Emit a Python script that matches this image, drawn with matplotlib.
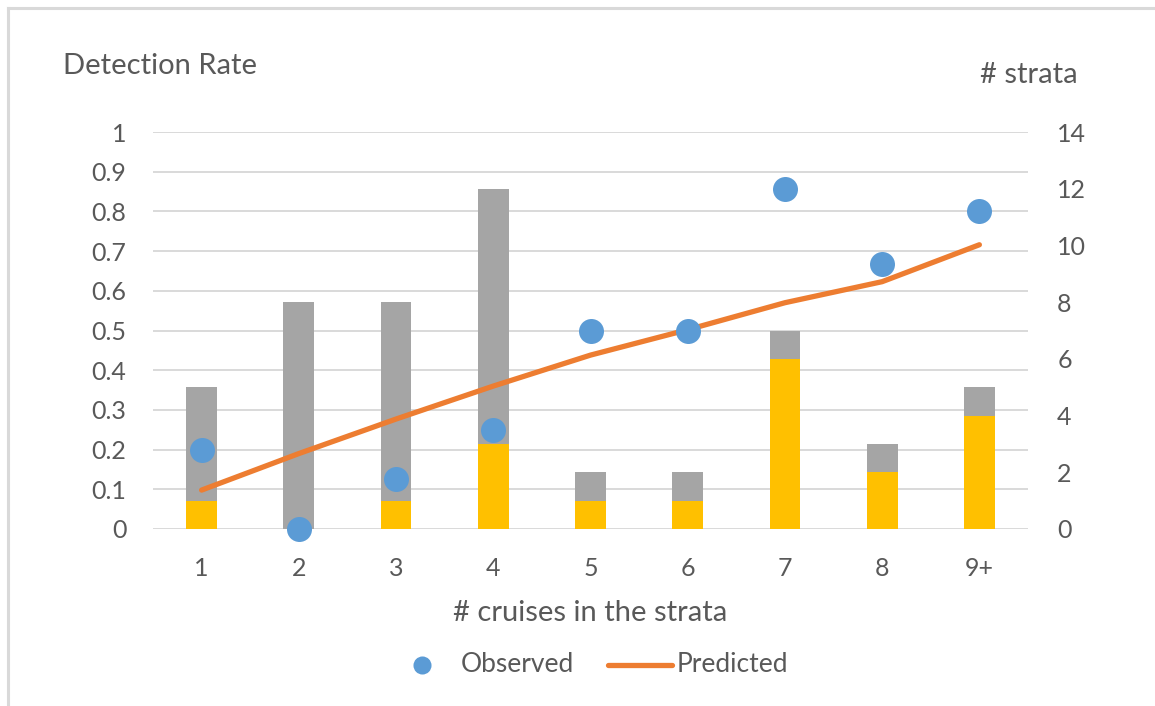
import matplotlib
matplotlib.use("Agg")
import matplotlib.pyplot as plt
from matplotlib.lines import Line2D
from matplotlib.transforms import blended_transform_factory

# Data
categories = ["1", "2", "3", "4", "5", "6", "7", "8", "9+"]
strata_total = [5, 8, 8, 12, 2, 2, 7, 3, 5]
strata_detected = [1, 0, 1, 3, 1, 1, 6, 2, 4]
observed = [0.2, 0.0, 0.125, 0.25, 0.5, 0.5, 0.857, 0.667, 0.8]
predicted = [0.098, 0.19, 0.277, 0.36, 0.438, 0.502, 0.57, 0.623, 0.716]
rate_ticks = [0, 0.1, 0.2, 0.3, 0.4, 0.5, 0.6, 0.7, 0.8, 0.9, 1.0]
rate_labels = ["0", "0.1", "0.2", "0.3", "0.4", "0.5", "0.6", "0.7", "0.8", "0.9", "1"]
strata_ticks = [0, 2, 4, 6, 8, 10, 12, 14]

GRAY = "#A5A5A5"
GOLD = "#FFC000"
BLUE = "#5B9BD5"
ORANGE = "#ED7D31"
GRID = "#D9D9D9"
TEXT = "#595959"
FONT = "Lato"
FS_TICK = 18
FS_TITLE = 21
FS_LEGEND = 19

plt.rcParams["font.family"] = [FONT, "DejaVu Sans"]

W, H = 1155, 706
fig = plt.figure(figsize=(W / 100, H / 100), dpi=100)
fig.patch.set_facecolor("white")

left, right, top, bottom = 153, 1028, 132, 529
ax_bars = fig.add_axes([left / W, (H - bottom) / H, (right - left) / W, (bottom - top) / H])
ax_rate = ax_bars.twinx()
ax_rate.set_zorder(ax_bars.get_zorder() + 1)
ax_rate.patch.set_visible(False)

x = list(range(len(categories)))

# Strata counts (right axis)
ax_bars.bar(x, strata_total, width=0.316, color=GRAY, zorder=2)
ax_bars.bar(x, strata_detected, width=0.316, color=GOLD, zorder=3)
ax_bars.set_xlim(-0.5, len(categories) - 0.5)
ax_bars.set_ylim(0, 14)
ax_bars.set_yticks(strata_ticks)
ax_bars.yaxis.tick_right()
ax_bars.set_xticks(x)
ax_bars.set_xticklabels(categories)

# Gridlines follow the detection-rate axis but sit behind the bars
grid_tf = blended_transform_factory(ax_bars.transAxes, ax_rate.transData)
ax_bars.hlines(rate_ticks, 0, 1, transform=grid_tf, colors=GRID, lw=1.4, zorder=0.5)

# Detection rate (left axis)
ax_rate.set_ylim(0, 1)
ax_rate.plot(x, predicted, color=ORANGE, lw=3.8, solid_capstyle="round", zorder=2)
ax_rate.scatter(x, observed, s=18 ** 2, color=BLUE, zorder=3, clip_on=False, linewidths=0)
ax_rate.set_yticks(rate_ticks)
ax_rate.set_yticklabels(rate_labels)
ax_rate.yaxis.tick_left()

for a in (ax_bars, ax_rate):
    for s in a.spines.values():
        s.set_visible(False)
    a.tick_params(length=0, labelsize=FS_TICK, labelcolor=TEXT)
ax_bars.tick_params(axis="x", pad=20)
ax_bars.tick_params(axis="y", pad=21)
ax_rate.tick_params(axis="y", pad=19)

# Axis titles
fig.text(63 / W, 1 - 66 / H, "Detection Rate", ha="left", va="center", fontsize=FS_TITLE, color=TEXT)
fig.text(1078 / W, 1 - 75 / H, "# strata", ha="right", va="center", fontsize=FS_TITLE, color=TEXT)
fig.text(590 / W, 1 - 613 / H, "# cruises in the strata", ha="center", va="center",
         fontsize=FS_TITLE, color=TEXT)

# Legend
ly = 1 - 665 / H
fig.add_artist(Line2D([422 / W], [ly], marker="o", markersize=13, color=BLUE, lw=0,
                      markeredgewidth=0))
fig.text(461 / W, ly, "Observed", ha="left", va="center", fontsize=FS_LEGEND, color=TEXT)
fig.add_artist(Line2D([608 / W, 672 / W], [ly, ly], color=ORANGE, lw=3.8,
                      solid_capstyle="round"))
fig.text(677 / W, ly, "Predicted", ha="left", va="center", fontsize=FS_LEGEND, color=TEXT)

# Chart border
fig.add_artist(Line2D([8 / W, 8 / W], [0, 1 - 8 / H], color=GRID, lw=2.2))
fig.add_artist(Line2D([8 / W, 1], [1 - 8 / H, 1 - 8 / H], color=GRID, lw=2.2))

fig.savefig("out.png", dpi=100, facecolor="white")
